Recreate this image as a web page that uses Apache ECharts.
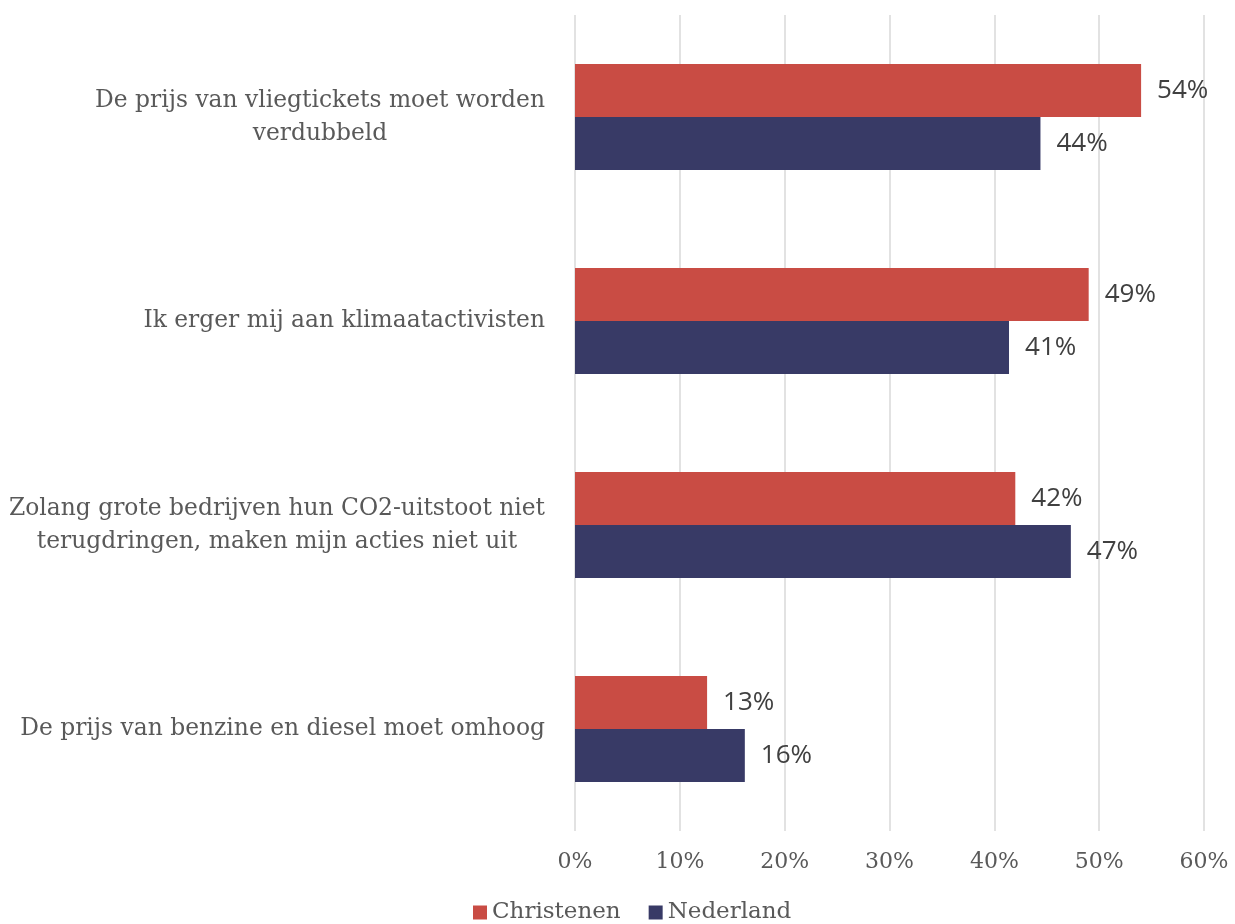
<!DOCTYPE html>
<html>
<head>
<meta charset="utf-8">
<script src="https://cdn.jsdelivr.net/npm/echarts@6/dist/echarts.min.js"></script>
<style>
  html, body { margin: 0; padding: 0; background: #fff; }
  #chart { width: 1235px; height: 924px; }
</style>
</head>
<body>
<div id="chart"></div>
<script>
// categories, top to bottom
const categories = [
  'De prijs van vliegtickets moet worden\nverdubbeld',
  'Ik erger mij aan klimaatactivisten',
  'Zolang grote bedrijven hun CO2-uitstoot niet\nterugdringen, maken mijn acties niet uit',
  'De prijs van benzine en diesel moet omhoog'
];
const christenen = [54.0, 49.0, 42.0, 12.6];
const nederland = [44.4, 41.4, 47.3, 16.2];
const seriesNames = ['Christenen', 'Nederland'];
const colors = ['#C94C44', '#383A66'];

const textColor = '#595959';
const serif = '"DejaVu Serif", "Liberation Serif", serif';
const sans = '"Open Sans", "Noto Sans", sans-serif';

const chart = echarts.init(document.getElementById('chart'));

function makeSeries(name, values, color) {
  return {
    name: name,
    type: 'bar',
    data: values,
    barWidth: 53,
    barGap: '0%',
    itemStyle: { color: color },
    label: {
      show: true,
      position: 'right',
      distance: 16,
      color: '#404040',
      fontFamily: sans,
      fontSize: 26,
      formatter: p => Math.round(p.value) + '%'
    }
  };
}

const option = {
  animation: false,
  color: colors,
  grid: { left: 575, right: 31, top: 15, bottom: 93, containLabel: false },
  legend: {
    bottom: -5,
    left: 468,
    itemWidth: 14,
    itemHeight: 14,
    itemGap: 28,
    icon: 'rect',
    textStyle: { color: textColor, fontFamily: serif, fontSize: 23 },
    data: seriesNames
  },
  xAxis: {
    type: 'value',
    min: 0,
    max: 60,
    interval: 10,
    axisLine: { show: false },
    axisTick: { show: false },
    splitLine: { lineStyle: { color: '#d9d9d9', width: 1.5 } },
    axisLabel: {
      color: textColor,
      fontFamily: serif,
      fontSize: 22,
      margin: 20,
      formatter: v => v + '%'
    }
  },
  yAxis: {
    type: 'category',
    inverse: true,
    data: categories,
    axisLine: { show: false },
    axisTick: { show: false },
    axisLabel: {
      color: textColor,
      margin: 30,
      formatter: v => v.split('\n').map(l => '{c|' + l + '}').join('\n'),
      rich: {
        c: {
          align: 'center',
          color: textColor,
          fontFamily: serif,
          fontSize: 23.4,
          lineHeight: 33
        }
      }
    }
  },
  series: [
    makeSeries(seriesNames[0], christenen, colors[0]),
    makeSeries(seriesNames[1], nederland, colors[1])
  ]
};

chart.setOption(option);
</script>
</body>
</html>
